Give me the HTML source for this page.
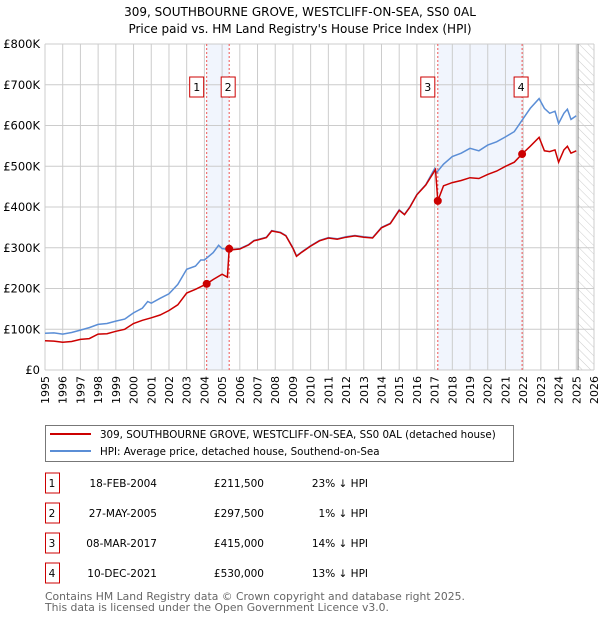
<!DOCTYPE html>
<html><head><meta charset="utf-8"><style>
body{margin:0;background:#fff;width:600px;height:620px;overflow:hidden;font-family:"DejaVu Sans","Liberation Sans",sans-serif;}
svg text{font-family:"DejaVu Sans","Liberation Sans",sans-serif;}
</style></head><body>
<svg id="chart" width="600" height="620" xmlns="http://www.w3.org/2000/svg">
<text x="300" y="16" font-size="12" text-anchor="middle">309, SOUTHBOURNE GROVE, WESTCLIFF-ON-SEA, SS0 0AL</text>
<text x="300" y="33" font-size="12" text-anchor="middle">Price paid vs. HM Land Registry's House Price Index (HPI)</text>
<g id="plot"></g>
<g>
<rect x="45.5" y="425.5" width="468" height="36" fill="#fff" stroke="#777"/>
<line x1="50" y1="434" x2="91" y2="434" stroke="#cc0000" stroke-width="2"/>
<text x="100" y="438" font-size="10.3">309, SOUTHBOURNE GROVE, WESTCLIFF-ON-SEA, SS0 0AL (detached house)</text>
<line x1="50" y1="451" x2="91" y2="451" stroke="#5b8ed6" stroke-width="2"/>
<text x="100" y="455" font-size="10.3">HPI: Average price, detached house, Southend-on-Sea</text>
</g>
<g id="table"></g>
<text x="45" y="600" font-size="10.8" fill="#666">Contains HM Land Registry data © Crown copyright and database right 2025.</text>
<text x="45" y="611" font-size="10.8" fill="#666">This data is licensed under the Open Government Licence v3.0.</text>
</svg>
<script>
const hpiYears=[1995,1995.5,1996,1996.5,1997,1997.5,1998,1998.5,1999,1999.5,2000,2000.5,2000.8,2001,2001.5,2002,2002.5,2003,2003.5,2003.8,2004,2004.5,2004.8,2005,2005.5,2006,2006.5,2006.8,2007,2007.5,2007.8,2008.3,2008.6,2009,2009.2,2009.5,2010,2010.5,2011,2011.5,2012,2012.5,2013,2013.5,2014,2014.5,2015,2015.3,2015.6,2016,2016.5,2017,2017.1,2017.5,2018,2018.5,2019,2019.5,2020,2020.5,2021,2021.5,2022,2022.4,2022.9,2023.2,2023.5,2023.8,2024,2024.3,2024.5,2024.7,2025];
const hpiValues=[90,91,88,92,98,104,112,114,120,125,140,152,168,164,176,187,210,247,255,270,270,288,306,298,295,298,308,318,320,326,342,338,330,300,280,290,305,318,325,322,327,330,327,325,350,360,393,382,400,431,455,494,484,505,524,532,544,538,552,560,572,585,617,642,666,642,630,635,605,630,640,615,624];
const ppYears=[1995,1995.5,1996,1996.5,1997,1997.5,1998,1998.5,1999,1999.5,2000,2000.5,2001,2001.5,2002,2002.5,2003,2003.5,2004.13,2004.5,2005,2005.3,2005.4,2005.5,2006,2006.5,2006.8,2007,2007.5,2007.8,2008.3,2008.6,2009,2009.2,2009.5,2010,2010.5,2011,2011.5,2012,2012.5,2013,2013.5,2014,2014.5,2015,2015.3,2015.6,2016,2016.5,2017.05,2017.18,2017.5,2018,2018.5,2019,2019.5,2020,2020.5,2021,2021.5,2021.94,2022.4,2022.9,2023.2,2023.5,2023.8,2024,2024.3,2024.5,2024.7,2025];
const ppValues=[72,71,68,70,75,77,88,89,95,100,114,122,128,135,146,160,189,198,211.5,222,235,228,297.5,295,297,307,317,319,325,341,337,329,299,279,289,304,317,324,321,326,329,326,324,349,359,392,381,399,430,454,492,415,452,460,465,472,470,480,488,500,510,530,549,571,538,536,540,510,540,549,532,538];
const saleYears=[2004.13,2005.4,2017.18,2021.94];
const saleValues=[211.5,297.5,415,530];
const saleLabels=["1","2","3","4"];
const saleDates=["18-FEB-2004","27-MAY-2005","08-MAR-2017","10-DEC-2021"];
const salePrices=["£211,500","£297,500","£415,000","£530,000"];
const saleDiffs=["23% ↓ HPI","1% ↓ HPI","14% ↓ HPI","13% ↓ HPI"];
const yTicks=[0,100,200,300,400,500,600,700,800];
const yTickLabels=["£0","£100K","£200K","£300K","£400K","£500K","£600K","£700K","£800K"];
const xTicks=[1995,1996,1997,1998,1999,2000,2001,2002,2003,2004,2005,2006,2007,2008,2009,2010,2011,2012,2013,2014,2015,2016,2017,2018,2019,2020,2021,2022,2023,2024,2025,2026];

const NS="http://www.w3.org/2000/svg";
const L=45,R=594,T=44,B=370,X0=1995,X1=2026,YMAX=800,dataEnd=2025.1;
const xs=v=>L+(v-X0)/(X1-X0)*(R-L);
const ys=v=>B-v/YMAX*(B-T);
const plot=document.getElementById('plot');
function mk(tag,attrs,parent){const e=document.createElementNS(NS,tag);for(const k in attrs)e.setAttribute(k,attrs[k]);(parent||plot).appendChild(e);return e;}

for(let i=0;i<4;i+=2){
 const r=mk('rect',{x:xs(saleYears[i]),y:T,width:xs(saleYears[i+1])-xs(saleYears[i]),height:B-T,fill:'#f1f5fd'});
 
 
}
const defs=mk('defs',{});
const pat=mk('pattern',{id:'hatch',width:6,height:6,patternUnits:'userSpaceOnUse',patternTransform:'rotate(-45)'},defs);
mk('line',{x1:0,y1:0,x2:0,y2:6,stroke:'#ccc','stroke-width':1},pat);
const hr=mk('rect',{x:xs(dataEnd),y:T,width:R-xs(dataEnd),height:B-T,fill:'url(#hatch)'});


xTicks.forEach((t,i)=>{
 const g=mk('line',{x1:xs(t),y1:T,x2:xs(t),y2:B,stroke:'#ccc','stroke-width':1});
 
 
 const tx=mk('text',{x:0,y:0,'font-size':11,'text-anchor':'end',transform:`translate(${xs(t)+4},${B+6}) rotate(-90)`});
 tx.textContent=t;
 
 
});
yTicks.forEach((t,i)=>{
 const g=mk('line',{x1:L,y1:ys(t),x2:R,y2:ys(t),stroke:'#ccc','stroke-width':1});
 
 
 const tx=mk('text',{x:L-5,y:ys(t)+4,'font-size':11.5,'text-anchor':'end'});
 tx.textContent=yTickLabels[i];
 
 
});
const el=mk('line',{x1:xs(dataEnd),y1:T,x2:xs(dataEnd),y2:B,stroke:'#888','stroke-width':1});


saleYears.forEach((y,i)=>{
 const l=mk('line',{x1:xs(y),y1:T,x2:xs(y),y2:B,stroke:'#e55','stroke-width':1,'stroke-dasharray':'2,2'});
 
 
 const bxX=(i%2===0)?xs(y)-17:xs(y)-8;
 const bx=mk('rect',{x:bxX,y:77,width:14,height:20,fill:'#fff',stroke:'#cc0000','stroke-width':1});
 
 
 const tx=mk('text',{x:bxX+7,y:91,'font-size':11,'text-anchor':'middle'});
 tx.textContent=saleLabels[i];
 
 
});
function pathOf(xa,va){return xa.map((x,i)=>(i?'L':'M')+xs(x).toFixed(1)+','+ys(va[i]).toFixed(1)).join('');}
const hp=mk('path',{d:pathOf(hpiYears,hpiValues),fill:'none',stroke:'#5b8ed6','stroke-width':1.5});


const pp=mk('path',{d:pathOf(ppYears,ppValues),fill:'none',stroke:'#cc0000','stroke-width':1.5});


saleYears.forEach((y,i)=>{
 const c=mk('circle',{cx:xs(y),cy:ys(saleValues[i]),r:4,fill:'#cc0000'});
 
 
});
const tb=document.getElementById('table');
saleLabels.forEach((s,i)=>{
 const cy=483+i*30;
 const r=mk('rect',{x:45.5,y:cy-10,width:14,height:20,fill:'#fff',stroke:'#cc0000','stroke-width':1},tb);
 
 
 const cells=[[52,s,'middle'],[157,saleDates[i],'end'],[264,salePrices[i],'end'],[368,saleDiffs[i],'end']];
 cells.forEach((c,j)=>{
  const t=mk('text',{x:c[0],y:cy+4,'font-size':10.5,'text-anchor':c[2]},tb);
  t.textContent=c[1];
  
  
 });
});
</script>
</body></html>
